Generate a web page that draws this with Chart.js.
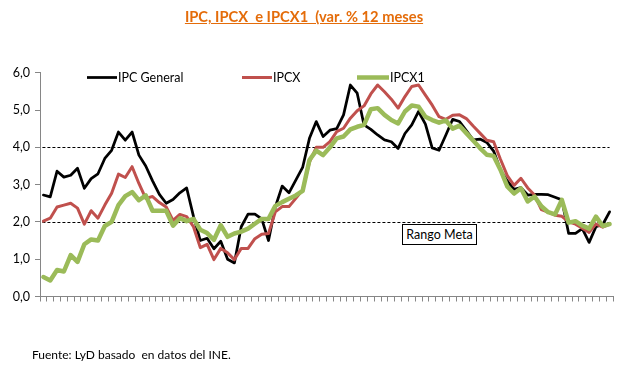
<!DOCTYPE html>
<html>
<head>
<meta charset="utf-8">
<script src="https://cdn.jsdelivr.net/npm/chart.js@4.4.1/dist/chart.umd.min.js"></script>
<style>
  html, body { margin: 0; padding: 0; background: #ffffff; }
  #wrap { position: relative; width: 632px; height: 372px; overflow: hidden; background: #fff; }
  #c { position: absolute; left: 0; top: 0; }
  #title { position: absolute; left: 0; top: 7px; width: 608px; text-align: center;
           font-family: Lato, sans-serif; font-weight: bold; font-size: 14.7px; color: #E46C0A;
           text-decoration: underline; white-space: pre; }
  #meta { position: absolute; left: 402px; top: 224px; width: 73px; height: 19px; border: 1px solid #000;
          font-family: Lato, sans-serif; font-size: 12.5px; line-height: 19px; text-align: center; color: #000; background: #fff; }
  #foot { position: absolute; left: 32px; top: 347px; font-family: Lato, sans-serif; font-size: 12px; color: #000; white-space: pre; }
</style>
</head>
<body>
<div id="wrap">
  <canvas id="c" width="632" height="372"></canvas>
  <div id="title">IPC, IPCX  e IPCX1  (var. % 12 meses</div>
  <div id="meta">Rango Meta</div>
  <div id="foot">Fuente: LyD basado  en datos del INE.</div>
</div>
<script>
// ---- data ----
const categories = ["1","2","3","4","5","6","7","8","9","10","11","12","13","14","15","16","17","18","19","20",
  "21","22","23","24","25","26","27","28","29","30","31","32","33","34","35","36","37","38","39","40",
  "41","42","43","44","45","46","47","48","49","50","51","52","53","54","55","56","57","58","59","60",
  "61","62","63","64","65","66","67","68","69","70","71","72","73","74","75","76","77","78","79","80",
  "81","82","83","84"];

const ipcGeneral = [2.72,2.67,3.36,3.20,3.25,3.44,2.90,3.16,3.29,3.70,
  3.92,4.41,4.19,4.41,3.79,3.50,3.10,2.74,2.50,2.60,
  2.78,2.91,2.15,1.50,1.56,1.28,1.48,1.00,0.90,1.87,
  2.21,2.21,2.08,1.50,2.40,2.96,2.78,3.12,3.46,4.24,
  4.69,4.29,4.46,4.50,4.87,5.67,5.45,4.60,4.48,4.33,
  4.20,4.15,3.97,4.37,4.60,4.96,4.62,3.98,3.92,4.33,
  4.75,4.69,4.45,4.20,4.22,4.13,3.90,3.39,3.10,2.87,
  2.92,2.72,2.74,2.74,2.73,2.66,2.59,1.69,1.69,1.82,
  1.45,1.87,1.93,2.27];

const ipcx = [2.02,2.10,2.40,2.45,2.50,2.37,1.94,2.30,2.10,2.45,
  2.77,3.28,3.19,3.48,3.03,2.63,2.68,2.52,2.40,2.04,
  2.20,2.14,1.87,1.31,1.40,0.99,1.29,1.17,0.99,1.29,
  1.29,1.55,1.67,1.69,2.27,2.41,2.41,2.63,2.86,3.60,
  4.00,4.00,4.15,4.42,4.51,4.78,4.98,5.11,5.43,5.67,
  5.49,5.29,5.05,5.36,5.63,5.67,5.40,5.13,4.82,4.75,
  4.86,4.87,4.77,4.57,4.38,4.19,4.15,3.68,3.24,2.98,
  3.17,2.91,2.72,2.33,2.26,2.18,2.15,2.00,1.94,1.83,
  1.72,1.94,1.86,1.94];

const ipcx1 = [0.52,0.43,0.71,0.67,1.11,0.93,1.40,1.53,1.50,1.89,
  2.00,2.45,2.69,2.80,2.58,2.71,2.30,2.30,2.30,1.90,
  2.10,2.02,2.08,1.79,1.70,1.52,1.91,1.60,1.69,1.74,
  1.82,1.95,2.08,2.08,2.43,2.53,2.62,2.71,2.83,3.66,
  3.91,3.79,4.00,4.24,4.29,4.48,4.55,4.60,5.02,5.05,
  4.87,4.73,4.64,4.96,5.12,5.09,4.82,4.73,4.66,4.72,
  4.50,4.58,4.38,4.18,3.98,3.80,3.77,3.40,2.95,2.76,
  2.90,2.55,2.68,2.42,2.26,2.20,2.59,1.98,2.02,1.90,
  1.82,2.14,1.89,1.94];

const metaRange = [2.0, 4.0];
const yTickLabels = ["0,0","1,0","2,0","3,0","4,0","5,0","6,0"];

// ---- plugins ----
const refLines = {
  id: 'refLines',
  beforeDatasetsDraw(chart) {
    const {ctx, scales} = chart;
    ctx.save();
    ctx.strokeStyle = '#000';
    ctx.lineWidth = 1;
    ctx.setLineDash([3, 2]);
    const x0 = scales.x.getPixelForValue(0) - 1;
    const x1 = scales.x.getPixelForValue(categories.length - 1);
    metaRange.forEach(v => {
      const y = Math.round(scales.y.getPixelForValue(v)) + 0.5;
      ctx.beginPath(); ctx.moveTo(x0, y); ctx.lineTo(x1, y); ctx.stroke();
    });
    ctx.restore();
  }
};

const legendPos = [
  {x0: 87, x1: 117, tx: 118},
  {x0: 242, x1: 272, tx: 273},
  {x0: 357, x1: 389, tx: 390}
];
const customLegend = {
  id: 'customLegend',
  afterDatasetsDraw(chart) {
    const {ctx} = chart;
    const y = 77.5;
    ctx.save();
    chart.data.datasets.forEach((ds, i) => {
      const p = legendPos[i];
      ctx.strokeStyle = ds.borderColor;
      ctx.lineWidth = ds.borderWidth;
      ctx.lineCap = 'butt';
      ctx.beginPath(); ctx.moveTo(p.x0, y); ctx.lineTo(p.x1, y); ctx.stroke();
      ctx.fillStyle = '#000';
      ctx.font = '12.5px Lato, sans-serif';
      ctx.textBaseline = 'middle';
      ctx.textAlign = 'left';
      ctx.fillText(ds.label, p.tx, y);
    });
    ctx.restore();
  }
};

new Chart(document.getElementById('c'), {
  type: 'line',
  data: {
    labels: categories,
    datasets: [
      {label: 'IPC General', data: ipcGeneral, borderColor: '#000000', borderWidth: 2.75, order: 3},
      {label: 'IPCX', data: ipcx, borderColor: '#C0504D', borderWidth: 3, order: 2},
      {label: 'IPCX1', data: ipcx1, borderColor: '#9BBB59', borderWidth: 4.5, order: 1}
    ]
  },
  options: {
    responsive: false,
    animation: false,
    devicePixelRatio: 1,
    layout: {padding: {left: 0, right: 19, top: 72.7, bottom: 70.5}},
    elements: {
      point: {radius: 0, hoverRadius: 0},
      line: {tension: 0, fill: false, borderJoinStyle: 'round', borderCapStyle: 'round'}
    },
    plugins: {legend: {display: false}, tooltip: {enabled: false}, title: {display: false}},
    scales: {
      x: {
        type: 'category', offset: true,
        grid: {offset: true, drawOnChartArea: false, drawTicks: true, tickLength: 5, color: '#868686'},
        border: {color: '#868686', width: 1},
        ticks: {display: false},
        afterFit(s) { s.height = 5; }
      },
      y: {
        min: 0, max: 6,
        ticks: {stepSize: 1, color: '#000', padding: 5, font: {family: 'Lato', size: 12.5},
                callback: (v) => yTickLabels[Math.round(v)] ?? ''},
        grid: {drawOnChartArea: false, drawTicks: true, tickLength: 5, color: '#868686'},
        border: {color: '#868686', width: 1},
        afterFit(s) { s.width = 40; }
      }
    }
  },
  plugins: [refLines, customLegend]
});
</script>
</body>
</html>
